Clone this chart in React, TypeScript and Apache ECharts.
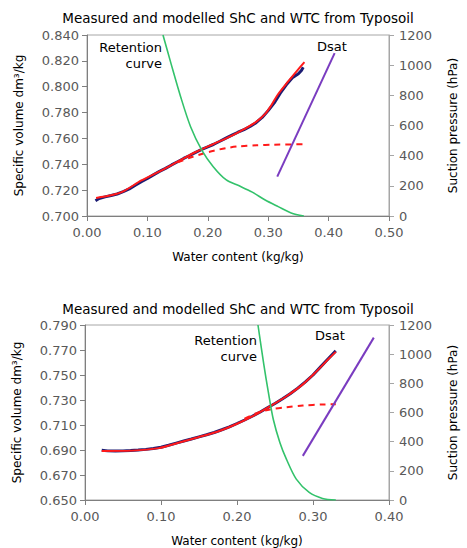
import React, { useEffect, useRef } from "react";
import * as echarts from "echarts";

// ---------- Chart 1 data ----------
const c1Measured: number[][] = [
  [0.014, 0.7118], [0.02, 0.7135], [0.03, 0.7148], [0.04, 0.7158], [0.05, 0.717],
  [0.06, 0.7188], [0.07, 0.721], [0.08, 0.7238], [0.09, 0.7265], [0.1, 0.729],
  [0.11, 0.7318], [0.12, 0.7345], [0.13, 0.7368], [0.14, 0.7395], [0.15, 0.742],
  [0.16, 0.7445], [0.17, 0.7468], [0.18, 0.7492], [0.19, 0.7515], [0.2, 0.7535],
  [0.21, 0.7555], [0.22, 0.7578], [0.23, 0.7602], [0.24, 0.7625], [0.25, 0.7648],
  [0.26, 0.7668], [0.27, 0.7692], [0.28, 0.7722], [0.29, 0.7762], [0.3, 0.7815],
  [0.31, 0.7875], [0.32, 0.795], [0.33, 0.8015], [0.34, 0.807], [0.35, 0.81],
  [0.355, 0.8125], [0.358, 0.815],
];
const c1Model: number[][] = [
  [0.015, 0.714], [0.04, 0.716], [0.06, 0.719], [0.09, 0.7275], [0.12, 0.7345],
  [0.15, 0.742], [0.18, 0.7495], [0.21, 0.7558], [0.24, 0.7622], [0.26, 0.7672],
  [0.28, 0.7728], [0.295, 0.779], [0.305, 0.7855], [0.316, 0.794], [0.332, 0.8035],
  [0.348, 0.8125], [0.36, 0.819],
];
const c1ModelDashed: number[][] = [
  [0.15, 0.7415], [0.17, 0.745], [0.19, 0.748], [0.21, 0.7505], [0.23, 0.7525],
  [0.25, 0.7538], [0.28, 0.7547], [0.31, 0.7552], [0.36, 0.7555],
];
const c1Retention: number[][] = [
  [0.1258, 1200], [0.139, 1012], [0.155, 791], [0.1715, 592], [0.19, 437],
  [0.209, 327], [0.2306, 239], [0.252, 200], [0.2736, 158], [0.295, 106],
  [0.3166, 62], [0.338, 20], [0.359, 0],
];
const c1Dsat: number[][] = [[0.315, 0.7305], [0.41, 0.826]];

// ---------- Chart 2 data ----------
const c2Measured: number[][] = [
  [0.022, 0.6898], [0.03, 0.6893], [0.04, 0.6892], [0.05, 0.6893], [0.06, 0.6896],
  [0.07, 0.69], [0.08, 0.6905], [0.09, 0.6912], [0.1, 0.6922], [0.11, 0.6938],
  [0.12, 0.6955], [0.13, 0.6972], [0.14, 0.6988], [0.15, 0.7005], [0.16, 0.7022],
  [0.17, 0.704], [0.18, 0.7062], [0.19, 0.7085], [0.2, 0.7112], [0.21, 0.714],
  [0.22, 0.717], [0.23, 0.7202], [0.24, 0.7238], [0.25, 0.7272], [0.26, 0.731],
  [0.27, 0.735], [0.28, 0.7395], [0.29, 0.7445], [0.3, 0.75], [0.31, 0.7565],
  [0.32, 0.763], [0.33, 0.7693],
];
const c2Model: number[][] = [
  [0.022, 0.6892], [0.0625, 0.6895], [0.097, 0.6915], [0.123, 0.6958], [0.149, 0.7002],
  [0.175, 0.7048], [0.2, 0.711], [0.222, 0.7175], [0.2435, 0.725], [0.265, 0.733],
  [0.2866, 0.7425], [0.304, 0.7525], [0.321, 0.7632], [0.33, 0.7685],
];
const c2ModelDashed: number[][] = [
  [0.21, 0.715], [0.226, 0.7195], [0.2435, 0.7224], [0.265, 0.7242], [0.2866, 0.7256],
  [0.3125, 0.7264], [0.33, 0.7266],
];
const c2Retention: number[][] = [
  [0.2276, 1200], [0.235, 939], [0.2414, 734], [0.2478, 552], [0.2565, 393],
  [0.265, 280], [0.278, 143], [0.295, 52], [0.3125, 11], [0.33, 0],
];
const c2Dsat: number[][] = [[0.2866, 0.6853], [0.38, 0.7799]];

const c2LeftTicks = [0.65, 0.67, 0.69, 0.71, 0.73, 0.75, 0.77, 0.79];

const TITLE = "Measured and modelled ShC and WTC from Typosoil";
const X_NAME = "Water content (kg/kg)";
const Y_NAME = "Specific volume dm³/kg";
const Y2_NAME = "Suction pressure (hPa)";

const FONT = "DejaVu Sans";
const LABEL_COLOR = "#595959";

export default function App() {
  const ref = useRef<HTMLDivElement>(null);
  useEffect(() => {
    if (!ref.current) return;
    const chart = echarts.init(ref.current, null, { renderer: "svg" });

    const xAxisBase = (gridIndex: number, max: number) => ({
      type: "value",
      gridIndex,
      min: 0,
      max,
      interval: 0.1,
      name: X_NAME,
      nameLocation: "middle",
      nameGap: 35,
      nameTextStyle: { color: "#000", fontFamily: FONT, fontSize: 12 },
      axisLine: { show: true, lineStyle: { color: "#7f7f7f", width: 1 } },
      axisTick: { show: true, inside: false, length: 5, lineStyle: { color: "#7f7f7f" } },
      axisLabel: {
        color: LABEL_COLOR, fontFamily: FONT, fontSize: 13, margin: 10,
        formatter: (v: number) => v.toFixed(2),
      },
      splitLine: { show: false },
    });

    const leftAxisBase = (gridIndex: number) => ({
      type: "value",
      gridIndex,
      position: "left",
      name: Y_NAME,
      nameLocation: "middle",
      nameRotate: 90,
      nameGap: 62,
      nameTextStyle: { color: "#000", fontFamily: FONT, fontSize: 12 },
      axisLine: { show: true, lineStyle: { color: "#7f7f7f", width: 1 } },
      axisTick: { show: true, inside: false, length: 5, lineStyle: { color: "#7f7f7f" } },
      axisLabel: {
        color: LABEL_COLOR, fontFamily: FONT, fontSize: 13, margin: 8,
        formatter: (v: number) => v.toFixed(3),
      },
      splitLine: { show: false },
    });

    const rightAxisBase = (gridIndex: number) => ({
      type: "value",
      gridIndex,
      position: "right",
      min: 0,
      max: 1200,
      interval: 200,
      name: Y2_NAME,
      nameLocation: "middle",
      nameRotate: 90,
      nameGap: 58,
      nameTextStyle: { color: "#000", fontFamily: FONT, fontSize: 12 },
      axisLine: { show: true, lineStyle: { color: "#a6a6a6", width: 1 } },
      axisTick: { show: true, inside: false, length: 5, lineStyle: { color: "#a6a6a6" } },
      axisLabel: {
        color: LABEL_COLOR, fontFamily: FONT, fontSize: 13, margin: 10,
        formatter: (v: number) => String(Math.round(v)),
      },
      splitLine: { show: false },
    });

    const seriesSet = (
      xi: number, yl: number, yr: number,
      meas: number[][], model: number[][], dashed: number[][],
      ret: number[][], dsat: number[][]
    ) => [
      {
        type: "line", xAxisIndex: xi, yAxisIndex: yl, data: meas, showSymbol: false,
        lineStyle: { color: "#1c1c73", width: 3 }, z: 2,
      },
      {
        type: "line", xAxisIndex: xi, yAxisIndex: yl, data: model, showSymbol: false, smooth: 0.3,
        lineStyle: { color: "#ff1a1a", width: 2 }, z: 3,
      },
      {
        type: "line", xAxisIndex: xi, yAxisIndex: yl, data: dashed, showSymbol: false, smooth: 0.3,
        lineStyle: { color: "#ff1a1a", width: 2, type: [6, 5] }, z: 3,
      },
      {
        type: "line", xAxisIndex: xi, yAxisIndex: yr, data: ret, showSymbol: false, smooth: 0.3,
        lineStyle: { color: "#33c26b", width: 1.6 }, z: 4,
      },
      {
        type: "line", xAxisIndex: xi, yAxisIndex: yl, data: dsat, showSymbol: false,
        lineStyle: { color: "#7a3cc0", width: 2 }, z: 4,
      },
    ];

    const textStyle = (text: string, align: string) => ({
      text, fill: "#000", font: `13px "${FONT}"`, align, verticalAlign: "middle", lineHeight: 16,
    });

    const titleStyle = { fontFamily: FONT, fontSize: 13.5, fontWeight: "normal", color: "#000" };

    chart.setOption({
      animation: false,
      title: [
        { text: TITLE, left: 233, top: 6, textAlign: "center", textStyle: titleStyle },
        { text: TITLE, left: 233, top: 297, textAlign: "center", textStyle: titleStyle },
      ],
      grid: [
        { left: 87, top: 35, width: 310, height: 181, show: true, borderColor: "#a6a6a6", borderWidth: 1 },
        { left: 85, top: 325, width: 309, height: 176, show: true, borderColor: "#a6a6a6", borderWidth: 1 },
      ],
      xAxis: [xAxisBase(0, 0.5), xAxisBase(1, 0.4)],
      yAxis: [
        { ...leftAxisBase(0), min: 0.7, max: 0.84, interval: 0.02 },
        rightAxisBase(0),
        {
          ...leftAxisBase(1), min: 0.65, max: 0.79,
          axisTick: { show: true, inside: false, length: 5, lineStyle: { color: "#7f7f7f" }, customValues: c2LeftTicks },
          axisLabel: {
            color: LABEL_COLOR, fontFamily: FONT, fontSize: 13, margin: 8,
            formatter: (v: number) => v.toFixed(3), customValues: c2LeftTicks,
          },
        },
        rightAxisBase(1),
      ],
      series: [
        ...seriesSet(0, 0, 1, c1Measured, c1Model, c1ModelDashed, c1Retention, c1Dsat),
        ...seriesSet(1, 2, 3, c2Measured, c2Model, c2ModelDashed, c2Retention, c2Dsat),
      ],
      graphic: [
        { type: "text", x: 162, y: 55, style: textStyle("Retention\ncurve", "right") },
        { type: "text", x: 317, y: 46, style: textStyle("Dsat", "left") },
        { type: "text", x: 257, y: 348, style: textStyle("Retention\ncurve", "right") },
        { type: "text", x: 315, y: 335, style: textStyle("Dsat", "left") },
      ],
    });
    return () => chart.dispose();
  }, []);
  return (
    <div
      ref={ref}
      style={{ position: "absolute", left: 0, top: 0, width: 467, height: 548, background: "#fff" }}
    />
  );
}
